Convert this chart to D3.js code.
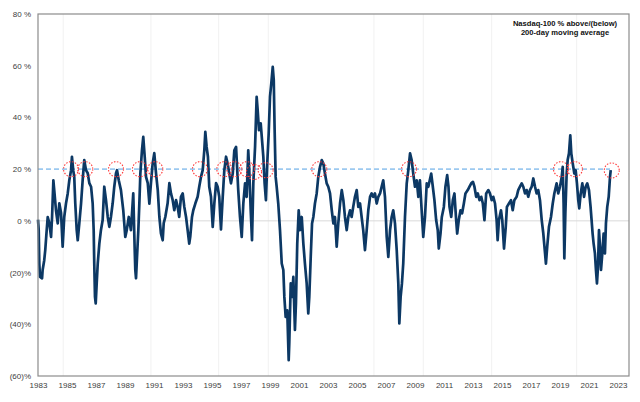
<!DOCTYPE html>
<html>
<head>
<meta charset="utf-8">
<script src="https://cdn.jsdelivr.net/npm/d3@7"></script>
<style>
  html, body { margin: 0; padding: 0; background: #ffffff; }
  svg { display: block; }
  text { font-family: "Liberation Sans", Arial, sans-serif; }
</style>
</head>
<body>
<svg id="chart" width="640" height="402"></svg>
<script>
// ---- Data ----
const years = [
1983.00,1983.05,1983.09,1983.14,1983.28,1983.32,1983.43,1983.50,1983.60,1983.67,1983.78,1983.90,1983.97,
1984.06,1984.12,1984.24,1984.36,1984.47,1984.59,1984.70,1984.81,1984.93,
1985.05,1985.16,1985.28,1985.34,1985.43,1985.50,1985.57,1985.67,1985.74,1985.85,1985.97,
1986.08,1986.19,1986.31,1986.43,1986.54,1986.66,1986.77,1986.84,1986.88,1986.93,1986.98,
1987.05,1987.12,1987.23,1987.34,1987.46,1987.57,1987.69,1987.81,1987.92,
1988.03,1988.15,1988.26,1988.38,1988.45,1988.57,1988.72,1988.88,
1989.02,1989.12,1989.26,1989.41,1989.57,1989.67,1989.71,1989.76,1989.83,1989.92,1989.99,
1990.06,1990.17,1990.26,1990.36,1990.45,1990.57,1990.68,1990.79,1990.91,
1991.02,1991.14,1991.26,1991.37,1991.48,1991.60,1991.67,1991.78,1991.94,
1992.06,1992.17,1992.29,1992.40,1992.52,1992.63,1992.74,1992.86,1992.98,
1993.09,1993.21,1993.32,1993.43,1993.50,1993.62,1993.71,1993.85,
1994.01,1994.12,1994.24,1994.36,1994.47,1994.54,1994.63,1994.72,1994.81,1994.93,
1995.05,1995.16,1995.28,1995.39,1995.50,1995.62,1995.74,1995.85,1995.97,
1996.08,1996.19,1996.31,1996.43,1996.54,1996.66,1996.81,1996.93,
1997.05,1997.16,1997.28,1997.39,1997.50,1997.57,1997.67,1997.76,1997.85,1997.97,
1998.08,1998.15,1998.24,1998.36,1998.47,1998.54,1998.63,1998.72,1998.81,1998.91,
1999.00,1999.09,1999.19,1999.26,1999.32,1999.39,1999.46,1999.57,1999.69,1999.81,1999.92,1999.99,
2000.08,2000.19,2000.29,2000.33,2000.43,2000.52,2000.61,2000.72,2000.79,2000.88,2000.98,
2001.07,2001.19,2001.30,2001.41,2001.53,2001.64,2001.71,2001.81,2001.90,2001.99,
2002.10,2002.22,2002.33,2002.45,2002.57,2002.68,2002.79,2002.91,
2003.02,2003.14,2003.26,2003.37,2003.48,2003.60,2003.71,2003.83,2003.95,
2004.06,2004.17,2004.29,2004.40,2004.52,2004.63,2004.74,2004.86,2004.98,
2005.09,2005.21,2005.32,2005.43,2005.55,2005.67,2005.78,2005.90,
2006.01,2006.12,2006.24,2006.36,2006.47,2006.59,2006.70,2006.81,2006.93,
2007.05,2007.16,2007.28,2007.39,2007.50,2007.62,2007.74,2007.85,2007.92,
2008.01,2008.10,2008.19,2008.31,2008.43,2008.54,2008.66,2008.77,2008.88,
2009.00,2009.12,2009.23,2009.34,2009.46,2009.57,2009.69,2009.81,2009.92,
2010.12,2010.23,2010.34,2010.46,2010.57,2010.64,2010.76,2010.85,2010.99,
2011.10,2011.22,2011.31,2011.38,2011.50,2011.61,2011.72,2011.84,2011.91,
2012.02,2012.14,2012.25,2012.37,2012.48,2012.64,2012.76,2012.88,
2013.00,2013.10,2013.22,2013.33,2013.45,2013.57,2013.68,2013.79,2013.91,
2014.06,2014.17,2014.29,2014.40,2014.52,2014.63,2014.70,2014.79,2014.93,
2015.02,2015.14,2015.26,2015.34,2015.48,2015.62,2015.74,2015.85,
2016.01,2016.12,2016.24,2016.36,2016.47,2016.59,2016.70,2016.81,2016.93,
2017.05,2017.16,2017.28,2017.39,2017.50,2017.62,2017.74,2017.85,2017.97,
2018.03,2018.12,2018.24,2018.38,2018.50,2018.61,2018.77,2018.88,
2019.00,2019.12,2019.19,2019.25,2019.30,2019.37,2019.46,2019.53,2019.62,2019.71,2019.78,2019.88,2019.99,
2020.08,2020.17,2020.26,2020.33,2020.43,2020.54,2020.66,2020.77,2020.88,
2021.00,2021.11,2021.18,2021.25,2021.32,2021.41,2021.48,2021.55,2021.62,2021.69,2021.76,2021.83,2021.92,
2022.01,2022.10,2022.17,2022.26,2022.36,2022.45,2022.50
];
const pctAbove200d = [
0.5,-3.6,-16.5,-21.7,-22.2,-19.0,-15.2,-11.3,-3.6,1.5,-0.9,-6.2,1.5,
15.7,11.9,4.1,-1.0,6.8,3.0,-10.0,1.5,6.7,
10.6,15.7,19.6,24.8,19.6,17.0,6.8,-3.6,-7.5,-0.9,6.8,
15.7,23.5,19.6,18.4,14.6,13.2,6.8,-3.6,-16.5,-29.4,-31.9,
-24.0,-16.5,-8.8,-3.6,0.3,13.2,8.0,1.5,-2.3,
1.5,6.8,13.2,18.4,19.6,15.7,11.9,4.1,
-6.2,-3.6,1.5,-3.6,10.6,-11.3,-19.0,-22.2,-13.9,-3.6,6.8,
18.4,27.3,32.5,24.8,17.0,14.6,6.7,14.6,22.3,
26.2,18.4,11.9,1.5,-4.9,-7.5,-0.9,1.5,6.8,
14.6,10.6,8.0,4.1,8.0,5.4,1.5,9.3,10.6,
5.4,1.5,-3.6,-8.8,-6.2,1.5,4.1,6.7,
9.3,13.2,17.0,19.6,27.3,34.4,28.6,24.8,13.2,9.3,
-2.3,6.7,14.6,13.2,9.3,-3.3,9.3,19.6,24.8,
22.2,18.3,14.5,18.3,27.3,28.6,11.9,1.5,
-6.2,6.7,14.5,9.3,27.3,19.6,4.1,-7.5,14.5,28.6,
48.0,42.8,35.1,37.7,29.9,24.8,14.5,8.0,22.2,33.8,
48.0,53.2,59.6,54.4,35.1,17.0,13.2,6.7,-3.6,-16.5,-19.0,-29.4,
-37.1,-34.6,-53.9,-47.4,-24.2,-29.4,-21.7,-42.2,-31.9,-8.8,4.1,
-3.6,1.5,-8.8,-16.5,-24.2,-35.8,-29.4,-13.9,-1.0,1.5,
6.7,10.6,17.0,20.9,23.5,22.2,18.3,14.5,
13.2,10.6,4.1,-1.0,1.5,-10.0,-1.0,6.7,11.9,
8.0,1.5,-3.6,1.5,4.1,1.5,5.4,9.3,11.9,
5.4,6.7,1.5,-3.6,-11.3,-3.6,4.1,9.3,
10.6,9.3,10.6,6.7,9.3,10.6,13.2,15.7,9.3,
-6.2,-13.9,-3.6,1.5,4.1,-1.0,-11.3,-24.2,-39.7,
-29.4,-24.2,-16.5,1.5,14.5,19.6,26.1,23.5,18.3,
13.2,15.7,9.3,15.7,4.1,-6.2,1.5,14.5,13.2,
18.3,13.2,8.0,0.3,-3.6,-10.7,-4.9,1.5,5.4,
13.2,17.7,13.2,5.4,1.5,8.0,10.6,0.3,-4.9,
0.3,4.1,2.9,6.7,10.6,11.9,13.2,14.5,
15.1,13.2,9.3,10.6,8.0,9.3,6.7,0.3,10.6,
11.9,10.6,8.0,9.3,6.7,0.3,-7.5,0.3,4.1,
0.3,-10.7,-2.3,5.4,6.7,8.0,4.1,8.0,
9.3,11.9,13.2,14.5,13.2,10.6,11.9,9.3,11.9,
13.2,16.4,13.2,10.6,11.9,8.0,0.3,-4.9,-12.6,
-16.5,-10.0,-2.3,1.5,6.7,10.6,14.5,10.6,
13.2,17.0,20.9,6.7,-14.5,2.9,18.3,23.5,26.1,33.1,26.1,22.2,18.3,
19.6,14.5,8.0,4.8,10.6,14.5,9.3,13.2,14.5,
11.9,5.4,0.3,-4.9,-8.8,-12.6,-19.0,-24.2,-17.8,-3.6,-10.0,-19.0,-12.6,
-4.9,-12.6,-1.0,5.4,9.3,17.0,19.6
];
// Red dotted circles marking touches of the +20% level
const touchYears  = [1985.28,1986.26,1988.38,1990.03,1991.09,1994.17,1995.85,1996.54,1997.41,1997.90,1998.70,2002.40,2008.59,2019.07,2020.03,2022.57];
const touchValues = [20,20,20,20,20,20,20,20,20,18.9,19.6,20,20,20,20,19.5];
const thresholdValue = 20;
const yTickValues = [-60,-40,-20,0,20,40,60,80];
const xTickYears = d3.range(1983, 2024, 2);
const faintGridYears = [1984.74,1990.79,1995.46,1998.88,2006.17,2009.57,2014.29,2020.15];
const titleLines = ["Nasdaq-100 % above/(below)", "200-day moving average"];

// ---- Chart ----
const svg = d3.select("#chart");
const x = d3.scaleLinear().domain([1983, 2023.76]).range([38, 629]);
const y = d3.scaleLinear().domain([-60, 80]).range([376, 14]);
const data = years.map((yr, i) => ({ yr, v: pctAbove200d[i] }));

// faint vertical gridlines
svg.append("g").selectAll("line").data(faintGridYears).join("line")
  .attr("x1", d => x(d)).attr("x2", d => x(d))
  .attr("y1", y(80)).attr("y2", y(-60))
  .attr("stroke", "#f1f1f1").attr("stroke-width", 1);

// zero line
svg.append("line")
  .attr("x1", x(1983)).attr("x2", x(2023.76))
  .attr("y1", y(0)).attr("y2", y(0))
  .attr("stroke", "#d9d9d9").attr("stroke-width", 1);

// threshold dashed line
svg.append("line")
  .attr("x1", x(1983)).attr("x2", x(2022.45))
  .attr("y1", y(thresholdValue)).attr("y2", y(thresholdValue))
  .attr("stroke", "#9cc9f0").attr("stroke-width", 1.6)
  .attr("stroke-dasharray", "5,3");

// series line
const line = d3.line().x(d => x(d.yr)).y(d => y(d.v));
svg.append("path").datum(data)
  .attr("d", line)
  .attr("fill", "none")
  .attr("stroke", "#0c3864")
  .attr("stroke-width", 2.7)
  .attr("stroke-linejoin", "round");

// circles
svg.append("g").selectAll("circle").data(touchYears).join("circle")
  .attr("cx", d => x(d))
  .attr("cy", (d, i) => y(touchValues[i]))
  .attr("r", 7.5)
  .attr("fill", "none")
  .attr("stroke", "#ff3b3b")
  .attr("stroke-width", 1.1)
  .attr("stroke-dasharray", "1.5,1.5");

// frame
svg.append("rect")
  .attr("x", 38).attr("y", 14).attr("width", 591).attr("height", 362)
  .attr("fill", "none").attr("stroke", "#8c8c8c").attr("stroke-width", 1.2);

// axes
const fmt = v => v < 0 ? "(" + Math.abs(v) + ")%" : v + " %";
const yAxis = svg.append("g").attr("transform", "translate(38,0)")
  .call(d3.axisLeft(y).tickValues(yTickValues).tickSize(0).tickPadding(7).tickFormat(fmt));
yAxis.select(".domain").remove();
yAxis.selectAll("text").attr("font-size", 8).attr("fill", "#404040")
  .attr("font-family", "'Liberation Sans', Arial, sans-serif");

const xAxis = svg.append("g").attr("transform", "translate(0,376)")
  .call(d3.axisBottom(x).tickValues(xTickYears).tickSize(0).tickPadding(6).tickFormat(d3.format("d")));
xAxis.select(".domain").remove();
xAxis.selectAll("text").attr("font-size", 8).attr("fill", "#404040")
  .attr("font-family", "'Liberation Sans', Arial, sans-serif");

// title
svg.append("g").selectAll("text").data(titleLines).join("text")
  .attr("x", 565).attr("y", (d, i) => 25.5 + i * 9.5)
  .attr("text-anchor", "middle")
  .attr("font-size", 7.6).attr("font-weight", "bold").attr("fill", "#111")
  .text(d => d);
</script>
</body>
</html>
